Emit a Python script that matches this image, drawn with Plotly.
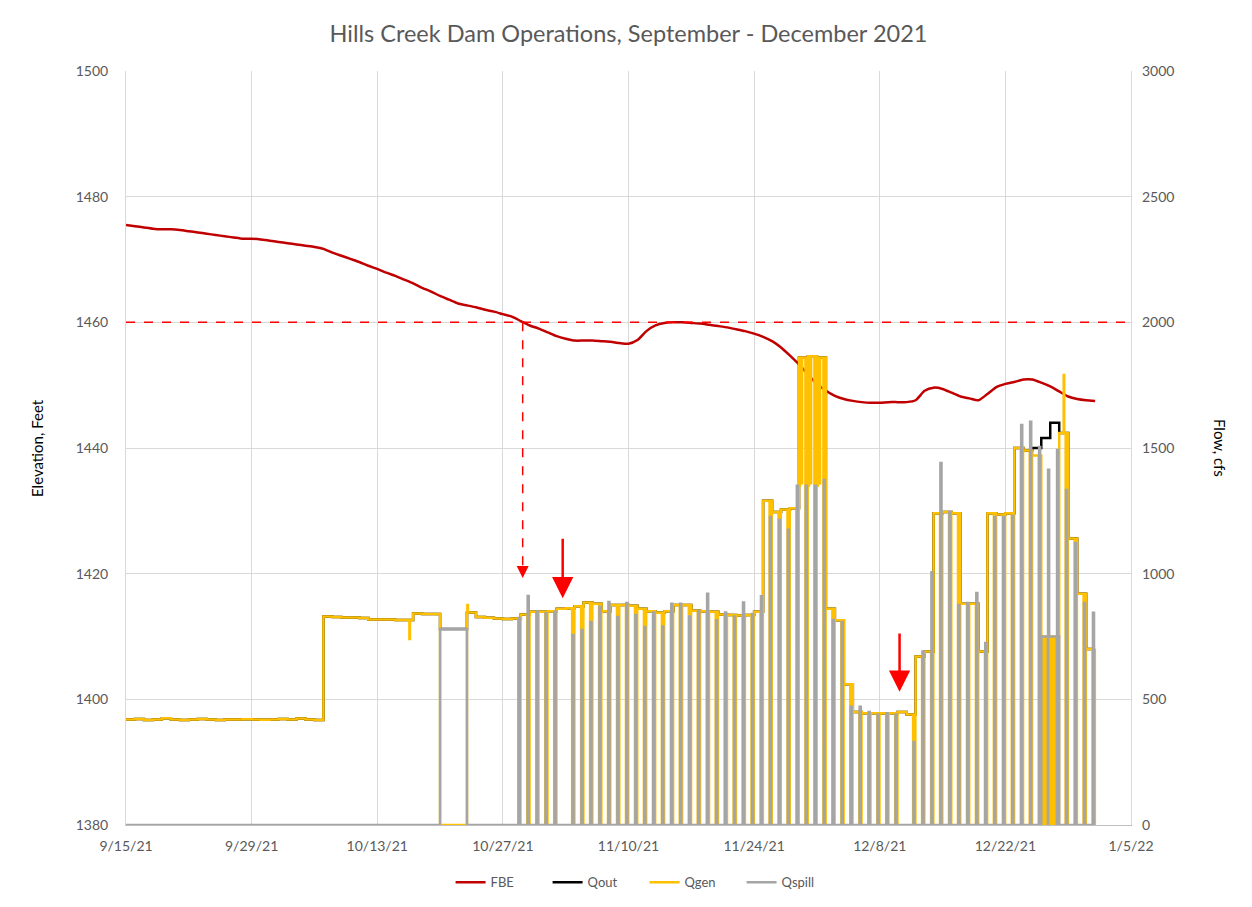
import pandas as pd
import plotly.graph_objects as go

# ---------------- data ----------------
start_date = "2021-09-15"
n_days = 109  # 9/15/21 .. 1/1/22 (daily samples)

fbe = [
    1475.5, 1475.3, 1475.1, 1474.9, 1474.8, 1474.8, 1474.7, 1474.5, 1474.3, 1474.1,
    1473.9, 1473.7, 1473.5, 1473.3, 1473.3, 1473.2, 1473.0, 1472.8, 1472.6, 1472.4,
    1472.2, 1472.0, 1471.7, 1471.1, 1470.6, 1470.1, 1469.6, 1469.0, 1468.5, 1467.9,
    1467.4, 1466.8, 1466.2, 1465.5, 1464.9, 1464.2, 1463.6, 1463.0, 1462.7, 1462.4,
    1462.0, 1461.7, 1461.3, 1460.9, 1460.2, 1459.5, 1459.0, 1458.4, 1457.8, 1457.4,
    1457.1, 1457.1, 1457.1, 1457.0, 1456.9, 1456.7, 1456.6, 1457.2, 1458.6, 1459.5,
    1459.9, 1460.0, 1460.0, 1459.9, 1459.8, 1459.6, 1459.4, 1459.2, 1458.9, 1458.6,
    1458.2, 1457.7, 1457.0, 1456.0, 1454.7, 1453.3, 1451.7, 1450.2, 1449.1, 1448.3,
    1447.8, 1447.5, 1447.3, 1447.2, 1447.2, 1447.3, 1447.3, 1447.3, 1447.6, 1449.1,
    1449.6, 1449.4, 1448.8, 1448.2, 1447.9, 1447.6, 1448.6, 1449.7, 1450.2, 1450.5,
    1450.9, 1450.9, 1450.4, 1449.8, 1449.0, 1448.2, 1447.8, 1447.6, 1447.5,
]

# daily generation level (cfs), 9/15/21 .. 12/31/21
qgen = [
    420, 422, 418, 420, 425, 420, 418, 420, 422, 420, 418, 420, 420, 421, 420, 419, 420, 422, 420, 424, 420, 418,
    830, 828, 826, 826, 824, 818, 818, 818, 816, 816, 842, 840, 840,
    0, 0, 0,
    845, 828, 825, 822, 820,
    822, 838, 848, 848, 850, 860, 862, 870, 885, 880, 850, 875, 875, 872,
    860, 850, 844, 850, 875, 875, 852, 850, 848, 838, 836, 834, 836, 848,
    1290, 1245, 1255, 1260, 1860, 1865, 1860,
    860, 815, 560, 450, 445, 445, 445, 445, 450, 440, 670, 690,
    1240, 1245, 1240, 880, 880, 690, 1240, 1235, 1240,
    1500, 1490, 1470, 750, 750, 1560, 1140, 920, 700,
]

# daily short spill pulse peak (cfs), 0 = no pulse
qspill_pulse = [
    0, 0, 0, 0, 0, 0, 0, 0, 0, 0, 0, 0, 0, 0, 0, 0, 0, 0, 0, 0, 0, 0,
    0, 0, 0, 0, 0, 0, 0, 0, 0, 0, 0, 0, 0,
    0, 0, 0,
    0, 0, 0, 0, 0,
    824, 911, 848, 843, 848, 0, 756, 776, 808, 868, 887, 828, 883, 836,
    788, 845, 790, 880, 880, 830, 850, 920, 815, 845, 830, 885, 840, 910,
    1225, 1215, 1175, 1350, 1350, 1350, 1373,
    816, 808, 470, 470, 450, 440, 445, 440, 0, 330, 690, 1006,
    1440, 1245, 875, 883, 923, 724, 1225, 1225, 1230,
    1592, 1604, 1504, 1413, 1492, 1333, 1122, 883, 844,
]

# daily continuous spill level (cfs)
qspill_base = [
    0, 0, 0, 0, 0, 0, 0, 0, 0, 0, 0, 0, 0, 0, 0, 0, 0, 0, 0, 0, 0, 0,
    0, 0, 0, 0, 0, 0, 0, 0, 0, 0, 0, 0, 0,
    780, 780, 780,
    0, 0, 0, 0, 0,
    0, 0, 0, 0, 0, 0, 0, 0, 0, 0, 0, 0, 0, 0,
    0, 0, 0, 0, 0, 0, 0, 0, 0, 0, 0, 0, 0, 0,
    0, 0, 0, 0, 0, 0, 0,
    0, 0, 0, 0, 0, 0, 0, 0, 0, 0, 0, 0,
    0, 0, 0, 0, 0, 0, 0, 0, 0,
    0, 0, 0, 750, 750, 0, 0, 0, 0,
]

# daily total outflow (cfs)
qout = [
    420, 422, 418, 420, 425, 420, 418, 420, 422, 420, 418, 420, 420, 421, 420, 419, 420, 422, 420, 424, 420, 418,
    830, 828, 826, 826, 824, 818, 818, 818, 816, 816, 842, 840, 840,
    780, 780, 780,
    845, 828, 825, 822, 820,
    822, 838, 848, 848, 850, 860, 862, 870, 885, 880, 850, 875, 875, 872,
    860, 850, 844, 850, 875, 875, 852, 850, 848, 838, 836, 834, 836, 848,
    1290, 1245, 1255, 1260, 1860, 1865, 1860,
    860, 815, 560, 450, 445, 445, 445, 445, 450, 440, 670, 690,
    1240, 1245, 1240, 880, 880, 690, 1240, 1235, 1240,
    1500, 1490, 1500, 1540, 1600, 1560, 1140, 920, 700,
]

# brief generation excursions (time, value)
gen_spike_times = [
    "2021-10-16 14:00", "2021-10-23 01:00", "2021-12-28 12:00",
    "2021-11-29 01:00", "2021-11-29 04:00", "2021-11-29 07:00",
    "2021-11-30 01:00", "2021-11-30 04:00", "2021-11-30 07:00",
    "2021-12-01 01:00", "2021-12-01 04:00", "2021-12-01 07:00",
    "2021-12-26 03:00", "2021-12-26 08:00", "2021-12-26 13:00",
    "2021-12-27 03:00", "2021-12-27 08:00", "2021-12-27 13:00",
]
gen_spike_vals = [
    740, 875, 1790,
    1350, 1380, 1360,
    1350, 1370, 1360,
    1350, 1380, 1360,
    0, 0, 0,
    0, 0, 0,
]

tick_dates = ["2021-09-15", "2021-09-29", "2021-10-13", "2021-10-27", "2021-11-10",
              "2021-11-24", "2021-12-08", "2021-12-22", "2022-01-05"]
tick_labels = ["9/15/21", "9/29/21", "10/13/21", "10/27/21", "11/10/21",
               "11/24/21", "12/8/21", "12/22/21", "1/5/22"]

elev_ticks = [1380, 1400, 1420, 1440, 1460, 1480, 1500]
flow_ticks = [0, 500, 1000, 1500, 2000, 2500, 3000]

target_elev = 1460
# annotation arrows: (date, tail elevation, tip elevation)
arrow_dates = ["2021-11-02 16:00", "2021-12-10 05:00"]
arrow_tails = [1425.8, 1410.7]
arrow_tips = [1416.1, 1401.2]
dash_arrow_date = "2021-10-29 05:00"
dash_arrow_tip = 1419.3

# ---------------- build series ----------------
assert len(fbe) == n_days
for arr in (qgen, qspill_pulse, qspill_base, qout):
    assert len(arr) == n_days - 1
assert len(gen_spike_times) == len(gen_spike_vals)

days = pd.date_range(start_date, periods=n_days, freq="D")
D = pd.Timedelta(days=1)

gen_pts = []
spill_pts = []
out_pts = []
for d in range(n_days - 1):
    t0 = days[d]
    gen_pts.append((t0, qgen[d]))
    spill_pts.append((t0, qspill_base[d]))
    out_pts.append((t0, qout[d]))
    if qspill_pulse[d] > 0:
        gen_pts.append((t0 + 0.72 * D, 0))
        gen_pts.append((t0 + 0.97 * D, qgen[d]))
        spill_pts.append((t0 + 0.74 * D, 0))
        spill_pts.append((t0 + 0.76 * D, qspill_pulse[d]))
        spill_pts.append((t0 + 0.88 * D, qspill_base[d]))
for ts, v in zip(gen_spike_times, gen_spike_vals):
    t = pd.Timestamp(ts)
    d = int((t - days[0]) / D)
    gen_pts.append((t, v))
    gen_pts.append((t + 0.06 * D, qgen[d]))
gen_pts.append((days[-1], qgen[-1]))
spill_pts.append((days[-1], qspill_base[-1]))
out_pts.append((days[-1], qout[-1]))
gen_pts.sort(key=lambda p: p[0])

fig = go.Figure()
fig.add_trace(go.Scatter(x=days, y=fbe, name="FBE", mode="lines",
                         line=dict(color="#c00000", width=2.5, shape="spline", smoothing=0.6),
                         yaxis="y"))
fig.add_trace(go.Scatter(x=[p[0] for p in out_pts], y=[p[1] for p in out_pts], name="Qout",
                         mode="lines", line=dict(color="#000000", width=2.5, shape="hv"), yaxis="y2"))
fig.add_trace(go.Scatter(x=[p[0] for p in gen_pts], y=[p[1] for p in gen_pts], name="Qgen",
                         mode="lines", line=dict(color="#ffc000", width=2.5, shape="hv"), yaxis="y2"))
fig.add_trace(go.Scatter(x=[p[0] for p in spill_pts], y=[p[1] for p in spill_pts], name="Qspill",
                         mode="lines", line=dict(color="#a5a5a5", width=2.5, shape="hv"), yaxis="y2"))

grid = "#d9d9d9"
txt = "#595959"
font_family = "Lato, 'Open Sans', sans-serif"

# page is drawn with an 8px body margin, so figure is 16px smaller than the window
W, H = 1236, 891
L, T = 118, 63
PW, PH = 1005, 754

fig.update_layout(
    width=W, height=H,
    margin=dict(l=L, r=W - L - PW, t=T, b=H - T - PH, autoexpand=False),
    paper_bgcolor="white", plot_bgcolor="white",
    font=dict(family=font_family, color=txt, size=14),
    title=dict(text="Hills Creek Dam Operations, September - December 2021",
               x=0.5, xref="paper", xanchor="center",
               y=1 - 26 / H, yref="container", yanchor="middle",
               font=dict(size=23.5, color=txt, family=font_family)),
    showlegend=True,
    legend=dict(orientation="h", x=0.516, xanchor="center", y=-0.076, yanchor="middle",
                font=dict(size=13, color=txt), bgcolor="rgba(0,0,0,0)",
                entrywidth=52, entrywidthmode="pixels", itemwidth=30),
    xaxis=dict(type="date", range=[tick_dates[0], tick_dates[-1]],
               tickmode="array", tickvals=tick_dates, ticktext=tick_labels,
               showgrid=True, gridcolor=grid, gridwidth=1, zeroline=False,
               showline=True, linecolor="#bfbfbf", linewidth=1, mirror=False,
               ticks="", tickfont=dict(size=14, color=txt), ticklabelstandoff=8),
    yaxis=dict(range=[1380, 1500], tickmode="array", tickvals=elev_ticks,
               showgrid=True, gridcolor=grid, gridwidth=1, zeroline=False,
               showline=True, linecolor=grid, mirror=True,
               ticks="", tickfont=dict(size=14, color=txt), ticklabelstandoff=14),
    yaxis2=dict(range=[0, 3000], tickmode="array", tickvals=flow_ticks,
                overlaying="y", side="right", showgrid=False, zeroline=False,
                showline=False, ticks="", tickfont=dict(size=14, color=txt),
                ticklabelstandoff=10),
)

# axis titles
fig.add_annotation(text="Elevation, Feet", xref="paper", yref="paper",
                   x=(37 - 126) / PW, y=0.5, textangle=-90, showarrow=False,
                   font=dict(size=15, color="#000000"), xanchor="center", yanchor="middle")
fig.add_annotation(text="Flow, cfs", xref="paper", yref="paper",
                   x=(1220 - 126) / PW, y=0.5, textangle=90, showarrow=False,
                   font=dict(size=15, color="#000000"), xanchor="center", yanchor="middle")

# dashed target line and dashed drop line
fig.add_shape(type="line", xref="paper", x0=0, x1=1, yref="y", y0=target_elev, y1=target_elev,
              line=dict(color="#ff0000", width=1.5, dash="dash"))
fig.add_shape(type="line", xref="x", x0=dash_arrow_date, x1=dash_arrow_date, yref="y",
              y0=target_elev, y1=dash_arrow_tip + 1.5,
              line=dict(color="#ff0000", width=1.5, dash="dash"))
fig.add_annotation(x=dash_arrow_date, y=dash_arrow_tip, ax=dash_arrow_date, ay=dash_arrow_tip + 2.0,
                   xref="x", yref="y", axref="x", ayref="y", text="", showarrow=True,
                   arrowhead=2, arrowsize=1.6, arrowwidth=1.5, arrowcolor="#ff0000", standoff=0)

for xd, tail, tip in zip(arrow_dates, arrow_tails, arrow_tips):
    fig.add_annotation(x=xd, y=tip, ax=xd, ay=tail, xref="x", yref="y", axref="x", ayref="y",
                       text="", showarrow=True, arrowhead=2, arrowsize=1.7, arrowwidth=2.5,
                       arrowcolor="#ff0000", standoff=0)

# chart outer border (left edge visible in reference)
fig.add_shape(type="line", xref="paper", yref="paper",
              x0=(6 - 126) / PW, x1=(6 - 126) / PW, y0=-(H - T - PH) / PH, y1=(PH + T) / PH,
              line=dict(color=grid, width=1))

fig.write_html("out.html")
